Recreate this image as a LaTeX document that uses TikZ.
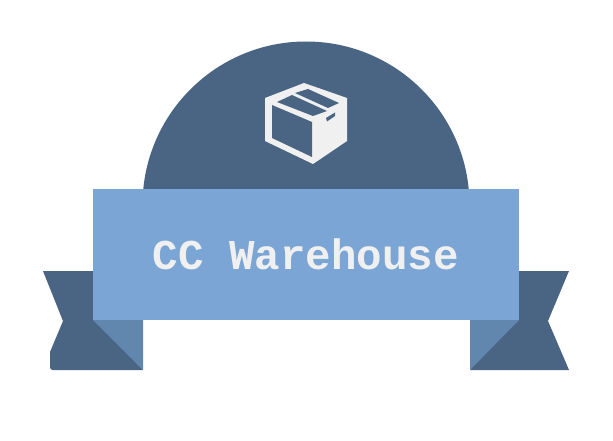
\documentclass[tikz,border=0pt]{standalone}
\usepackage{fontspec}
\setmonofont{Liberation Mono}
\definecolor{ribbondark}{HTML}{4A6583}
\definecolor{bannerblue}{HTML}{7AA5D4}
\definecolor{foldblue}{HTML}{6187AF}
\definecolor{iconwhite}{HTML}{F0F0F0}
\begin{document}
\begin{tikzpicture}[x=1pt,y=-1pt,
  darkpart/.style={fill=ribbondark,draw=none},
  foldpart/.style={fill=foldblue,draw=none},
  holepart/.style={fill=ribbondark,draw=none}]
\useasboundingbox (0,0) rectangle (613,441);
\fill[white] (0,0) rectangle (613,441);
% dome
\begin{scope}
\clip (100,0) rectangle (520,189);
\fill[ribbondark] (306,205) circle [radius=163.5];
\end{scope}
% ribbon tails
\fill[darkpart] (43,271) -- (100,271) -- (100,320) -- (143,370) -- (53,370)
  .. controls (51,370) and (50,369) .. (50,367) -- (50,352) -- (63,321) -- cycle;
\fill[darkpart] (569,271) -- (510,271) -- (510,320) -- (470,370) -- (569,370)
  -- (548,321) -- cycle;
% folds
\fill[foldpart] (93,320) -- (143,320) -- (143,370) -- cycle;
\fill[foldpart] (519,320) -- (470,320) -- (470,370) -- cycle;
% banner
\fill[bannerblue] (93,189) rectangle (519,320);
\node[font=\ttfamily\bfseries,text=iconwhite,scale=4.25,inner sep=0pt] (title) at (306,254.5) {CC Warehouse};
% box icon
\fill[iconwhite] (304,83) -- (347,98) -- (347,141) -- (313,164) -- (265,141) -- (265,98) -- cycle;
\fill[holepart] (272,105) -- (312,122) -- (312,157) -- (272,138) -- cycle;
\fill[holepart] (277,102) -- (292,95) -- (327,111) -- (313,116) -- cycle;
\fill[holepart] (295,93) -- (308,89) -- (339,103) -- (328,108) -- cycle;
\fill[holepart] (326,118) -- (335,112.5) -- (335,116) -- (327,121.5) -- cycle;
\end{tikzpicture}
\end{document}
